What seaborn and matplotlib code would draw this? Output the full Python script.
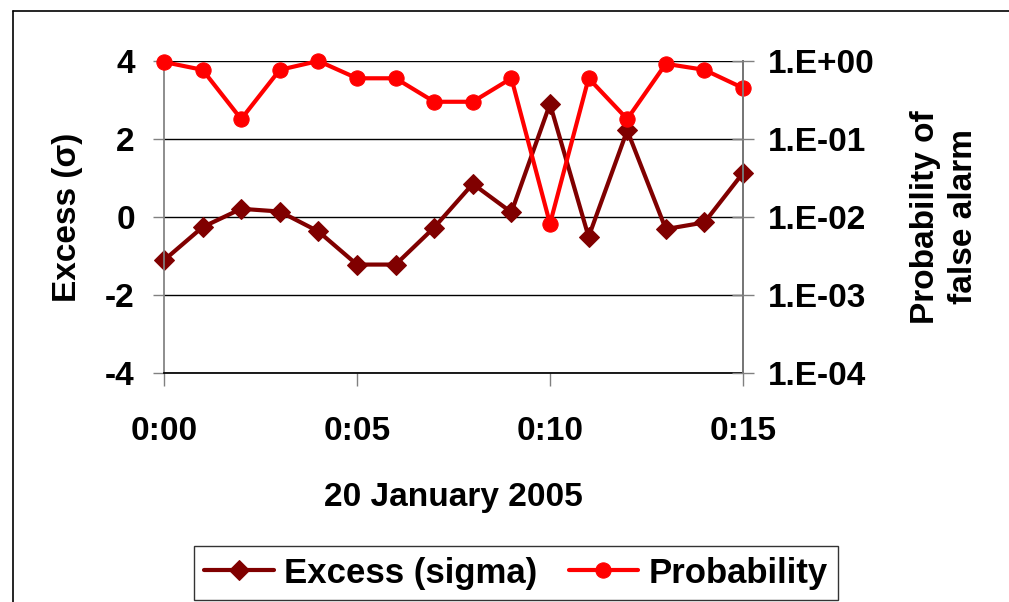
import numpy as np
import pandas as pd
import matplotlib
matplotlib.use('Agg')
import matplotlib.pyplot as plt
from matplotlib.lines import Line2D
import seaborn as sns

# 数据 (分钟, 2005-01-20 0:00 起)
minutes = list(range(16))
excess_sigma = [-1.11, -0.26, 0.21, 0.14, -0.37, -1.22, -1.22, -0.27,
                0.85, 0.12, 2.90, -0.51, 2.22, -0.31, -0.14, 1.13]
probability = [0.97, 0.77, 0.18, 0.77, 1.0, 0.60, 0.60, 0.30,
               0.30, 0.60, 0.0082, 0.60, 0.18, 0.92, 0.77, 0.45]
x_ticks = [0, 5, 10, 15]
x_tick_labels = ['0:00', '0:05', '0:10', '0:15']
left_ticks = [-4, -2, 0, 2, 4]
right_ticks = [1e-4, 1e-3, 1e-2, 1e-1, 1]
right_tick_labels = ['1.E-04', '1.E-03', '1.E-02', '1.E-01', '1.E+00']

df = pd.DataFrame({'minute': minutes, 'excess': excess_sigma,
                   'prob': probability})

sns.set_theme(style='white')
plt.rcParams['font.family'] = ['Liberation Sans', 'DejaVu Sans']
plt.rcParams['font.weight'] = 'bold'
plt.rcParams['text.color'] = 'black'
plt.rcParams['axes.labelcolor'] = 'black'
plt.rcParams['xtick.color'] = 'black'
plt.rcParams['ytick.color'] = 'black'

fs = 24
dark = '#800000'
red = '#FF0000'
gray = '#808080'

fig = plt.figure(figsize=(10.09, 6.02), dpi=100)
ax = fig.add_axes([0.1625, 0.3804, 0.5739, 0.5183])
ax2 = ax.twinx()

sns.lineplot(data=df, x='minute', y='excess', ax=ax, color=dark, lw=3,
             marker='D', markersize=10, markeredgecolor=dark,
             label='Excess (sigma)', legend=False, clip_on=False)
sns.lineplot(data=df, x='minute', y='prob', ax=ax2, color=red, lw=3,
             marker='o', markersize=11, markeredgecolor=red,
             label='Probability', legend=False, clip_on=False)

# 左轴
ax.set_xlim(0, 15)
ax.set_ylim(-4, 4)
ax.set_yticks(left_ticks)
ax.set_yticklabels([str(t) for t in left_ticks], fontsize=fs, fontweight='bold')
ax.set_xticks(x_ticks)
ax.set_xticklabels(x_tick_labels, fontsize=fs, fontweight='bold')
ax.grid(axis='y', color='black', lw=1)
ax.grid(axis='x', visible=False)
ax.tick_params(axis='y', direction='out', length=8, width=1, color=gray,
               labelcolor='black', pad=13, left=True)
ax.tick_params(axis='x', direction='out', length=9, width=1, color=gray,
               labelcolor='black', pad=22, bottom=True)
ax.set_xlabel('20 January 2005', fontsize=fs, fontweight='bold')
ax.xaxis.set_label_coords(0.5, -0.35)
ax.set_ylabel('Excess (σ)', fontsize=fs, fontweight='bold')
ax.yaxis.set_label_coords(-0.14, 0.5)

ax.spines['top'].set_visible(False)
ax2.spines['top'].set_visible(False)
ax.spines['left'].set_color(gray)
ax.spines['bottom'].set_color('black')
ax2.spines['right'].set_color(gray)
ax2.spines['left'].set_visible(False)
ax2.spines['bottom'].set_visible(False)

# 右轴 (对数)
ax2.set_yscale('log')
ax2.set_ylim(1e-4, 1)
ax2.set_yticks(right_ticks)
ax2.set_yticklabels(right_tick_labels, fontsize=fs, fontweight='bold')
ax2.yaxis.set_minor_locator(matplotlib.ticker.NullLocator())
ax2.tick_params(axis='y', direction='inout', length=16, width=1, color=gray,
                labelcolor='black', pad=10, right=True)
ax2.set_ylabel('Probability of\nfalse alarm', fontsize=fs, fontweight='bold',
               linespacing=1.3)
ax2.yaxis.set_label_coords(1.288, 0.5)
ax2.grid(False)

# 图例
h1, l1 = ax.get_legend_handles_labels()
h2, l2 = ax2.get_legend_handles_labels()
leg = fig.legend(h1 + h2, l1 + l2, loc='center', ncol=2,
                 bbox_to_anchor=(516 / 1009, 1 - 573 / 602),
                 prop={'size': 25, 'weight': 'bold'}, frameon=True,
                 fancybox=False, edgecolor='black', handlelength=2.0,
                 handletextpad=0.3, columnspacing=0.9, borderpad=0.3,
                 borderaxespad=0)
leg.get_frame().set_linewidth(1)

# 图外框
fig.add_artist(Line2D([13 / 1009, 13 / 1009], [0, 1 - 11 / 602], color='black', lw=1.2))
fig.add_artist(Line2D([13 / 1009, 1], [1 - 11 / 602, 1 - 11 / 602], color='black', lw=1.2))

fig.savefig('out.png', dpi=100)
